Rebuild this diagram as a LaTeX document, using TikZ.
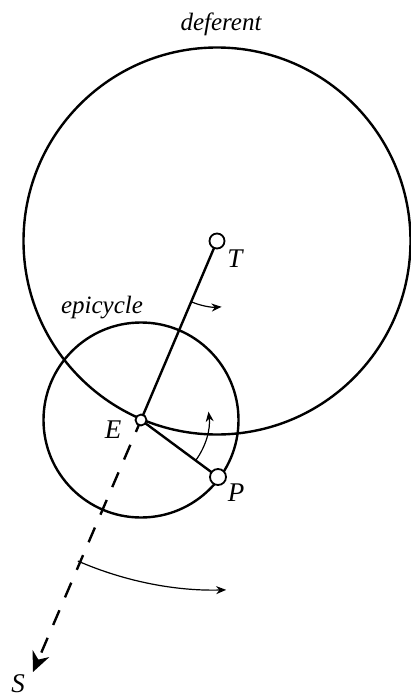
\documentclass[tikz,border=0pt]{standalone}
\usepackage{fontspec}
\setmainfont{Liberation Serif}
\usetikzlibrary{arrows.meta,calc}
\begin{document}
\begin{tikzpicture}[x=1pt,y=1pt,
  thickline/.style={line width=2.4pt},
  thinarrow/.style={line width=1.2pt,-{Stealth[length=10pt,width=8pt]}},
  pivot/.style={circle,draw,fill=white,line width=1.8pt,inner sep=0pt},
  lab/.style={font=\fontsize{27}{27}\selectfont\itshape,inner sep=0pt},
  bigl/.style={font=\fontsize{25}{25}\selectfont\itshape,inner sep=0pt}]
\useasboundingbox (0,0) rectangle (411,-698);
\coordinate (Tc) at (217,-241);
\coordinate (Ec) at (141,-420);
\coordinate (Pc) at (218,-477);
\coordinate (Stip) at (33,-672);
% circles
\draw[thickline] (Tc) circle[radius=193.5];
\draw[thickline] (Ec) circle[radius=97.5];
% lines
\draw[thickline] (Tc) -- (Ec);
\draw[thickline] (Ec) -- (Pc);
\draw[line width=2.4pt,dash pattern=on 16pt off 14pt,dash phase=3pt,-{Stealth[length=20pt,width=18pt]}] (Ec) -- (Stip);
% arcs
\draw[thinarrow] ($(Tc)+(247:66)$) arc[start angle=247,end angle=274,radius=66];
\draw[thinarrow] ($(Ec)+(-36.5:68)$) arc[start angle=-36.5,end angle=7,radius=68];
\draw[thinarrow] ($(Tc)+(246.5:349)$) arc[start angle=246.5,end angle=271.5,radius=349];
% pivots
\node[pivot,minimum size=15pt] (T) at (Tc) {};
\node[pivot,minimum size=11pt] (E) at (Ec) {};
\node[pivot,minimum size=16pt] (P) at (Pc) {};
% labels
\node[bigl] (ldef) at (221,-24) {deferent};
\node[bigl] (lepi) at (102,-308) {epicycle};
\node[lab] (lT) at (235,-259) {T};
\node[lab] (lE) at (113,-430) {E};
\node[lab] (lP) at (236,-493) {P};
\node[lab] (lS) at (18,-684) {S};
\end{tikzpicture}
\end{document}
